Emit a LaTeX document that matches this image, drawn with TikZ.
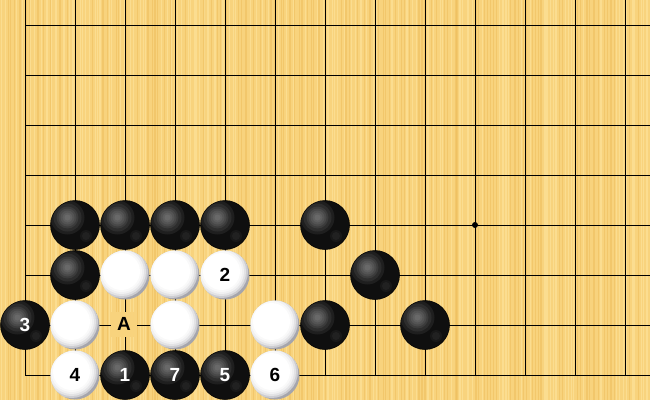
\documentclass[tikz,border=0pt]{standalone}
\usepackage{fontspec}
\newfontfamily\numfont{Liberation Sans}
\definecolor{woodbase}{RGB}{248,211,125}
\definecolor{woodlight}{RGB}{253,228,158}
\definecolor{wooddark}{RGB}{238,188,90}
\definecolor{stonerim}{RGB}{165,165,172}
\tikzset{
  gridline/.style={line width=1pt, black},
  bstone/.style={circle, minimum size=49pt, inner sep=0pt, fill=black!94, draw=black, line width=0.5pt,
     font=\numfont\fontsize{19}{19}\selectfont\bfseries, text=white,
     path picture={
       \foreach \r in {17,14,11,9,7,5,3}{
         \fill[white, opacity=0.065] ($(path picture bounding box.center)+(-7.5,-7.5)$) circle (\r);
       }
       \foreach \r in {6,4}{
         \fill[white, opacity=0.04] ($(path picture bounding box.center)+(11,11)$) circle (\r);
       }
     }},
  wstone/.style={circle, minimum size=49pt, inner sep=0pt, fill=stonerim,
     font=\numfont\fontsize{19}{19}\selectfont\bfseries, text=black,
     path picture={
       \fill[white, opacity=0.45] ($(path picture bounding box.center)+(-3.5,-3.5)$) circle (26.5);
       \fill[white, opacity=0.45] ($(path picture bounding box.center)+(-3.5,-3.5)$) circle (24.5);
       \fill[white, opacity=0.5] ($(path picture bounding box.center)+(-3.5,-3.5)$) circle (22.5);
       \fill[white, opacity=0.6] ($(path picture bounding box.center)+(-3.5,-3.5)$) circle (20.5);
       \fill[white] ($(path picture bounding box.center)+(-3.5,-3.5)$) circle (18.5);
     }},
  boardlabel/.style={fill=woodbase, inner sep=0pt, minimum width=26pt, minimum height=25pt,
     font=\numfont\fontsize{19}{19}\selectfont\bfseries, text=black},
  starpt/.style={circle, fill=black, inner sep=0pt, minimum size=6pt}
}
\usetikzlibrary{calc}
\begin{document}
\begin{tikzpicture}[x=1pt,y=-1pt]
\useasboundingbox (0,0) rectangle (650,400);
% wood background
\fill[woodbase] (0,0) rectangle (650,400);
\pgfmathsetseed{12}
\foreach \i in {0,...,215}{
  \pgfmathsetmacro{\xx}{3*\i+rnd*2}
  \pgfmathsetmacro{\ww}{0.5+rnd*1.3}
  \pgfmathsetmacro{\cc}{rnd}
  \ifdim\cc pt<0.5pt
    \fill[wooddark, opacity=0.5] (\xx,0) rectangle ++(\ww,400);
  \else
    \fill[woodlight, opacity=0.6] (\xx,0) rectangle ++(\ww,400);
  \fi
}
% grid
\foreach \c in {0,...,12}{
  \draw[gridline] (25+50*\c,0) -- (25+50*\c,375);
}
\foreach \r in {0,...,7}{
  \draw[gridline] (25,25+50*\r) -- (650,25+50*\r);
}
\node[starpt] (star) at (475,225) {};
% label A
\node[boardlabel] (A) at (124,324) {A};
% black stones
\node[bstone] (b1) at (75,225) {};
\node[bstone] (b2) at (125,225) {};
\node[bstone] (b3) at (175,225) {};
\node[bstone] (b4) at (225,225) {};
\node[bstone] (b5) at (325,225) {};
\node[bstone] (b6) at (75,275) {};
\node[bstone] (b7) at (375,275) {};
\node[bstone] (b8) at (325,325) {};
\node[bstone] (b9) at (425,325) {};
\node[bstone] (m3) at (25,325) {3};
\node[bstone] (m1) at (125,375) {1};
\node[bstone] (m7) at (175,375) {7};
\node[bstone] (m5) at (225,375) {5};
% white stones
\node[wstone] (w1) at (125,275) {};
\node[wstone] (w2) at (175,275) {};
\node[wstone] (m2) at (225,275) {2};
\node[wstone] (w3) at (75,325) {};
\node[wstone] (w4) at (175,325) {};
\node[wstone] (w5) at (275,325) {};
\node[wstone] (m4) at (75,375) {4};
\node[wstone] (m6) at (275,375) {6};
\end{tikzpicture}
\end{document}
